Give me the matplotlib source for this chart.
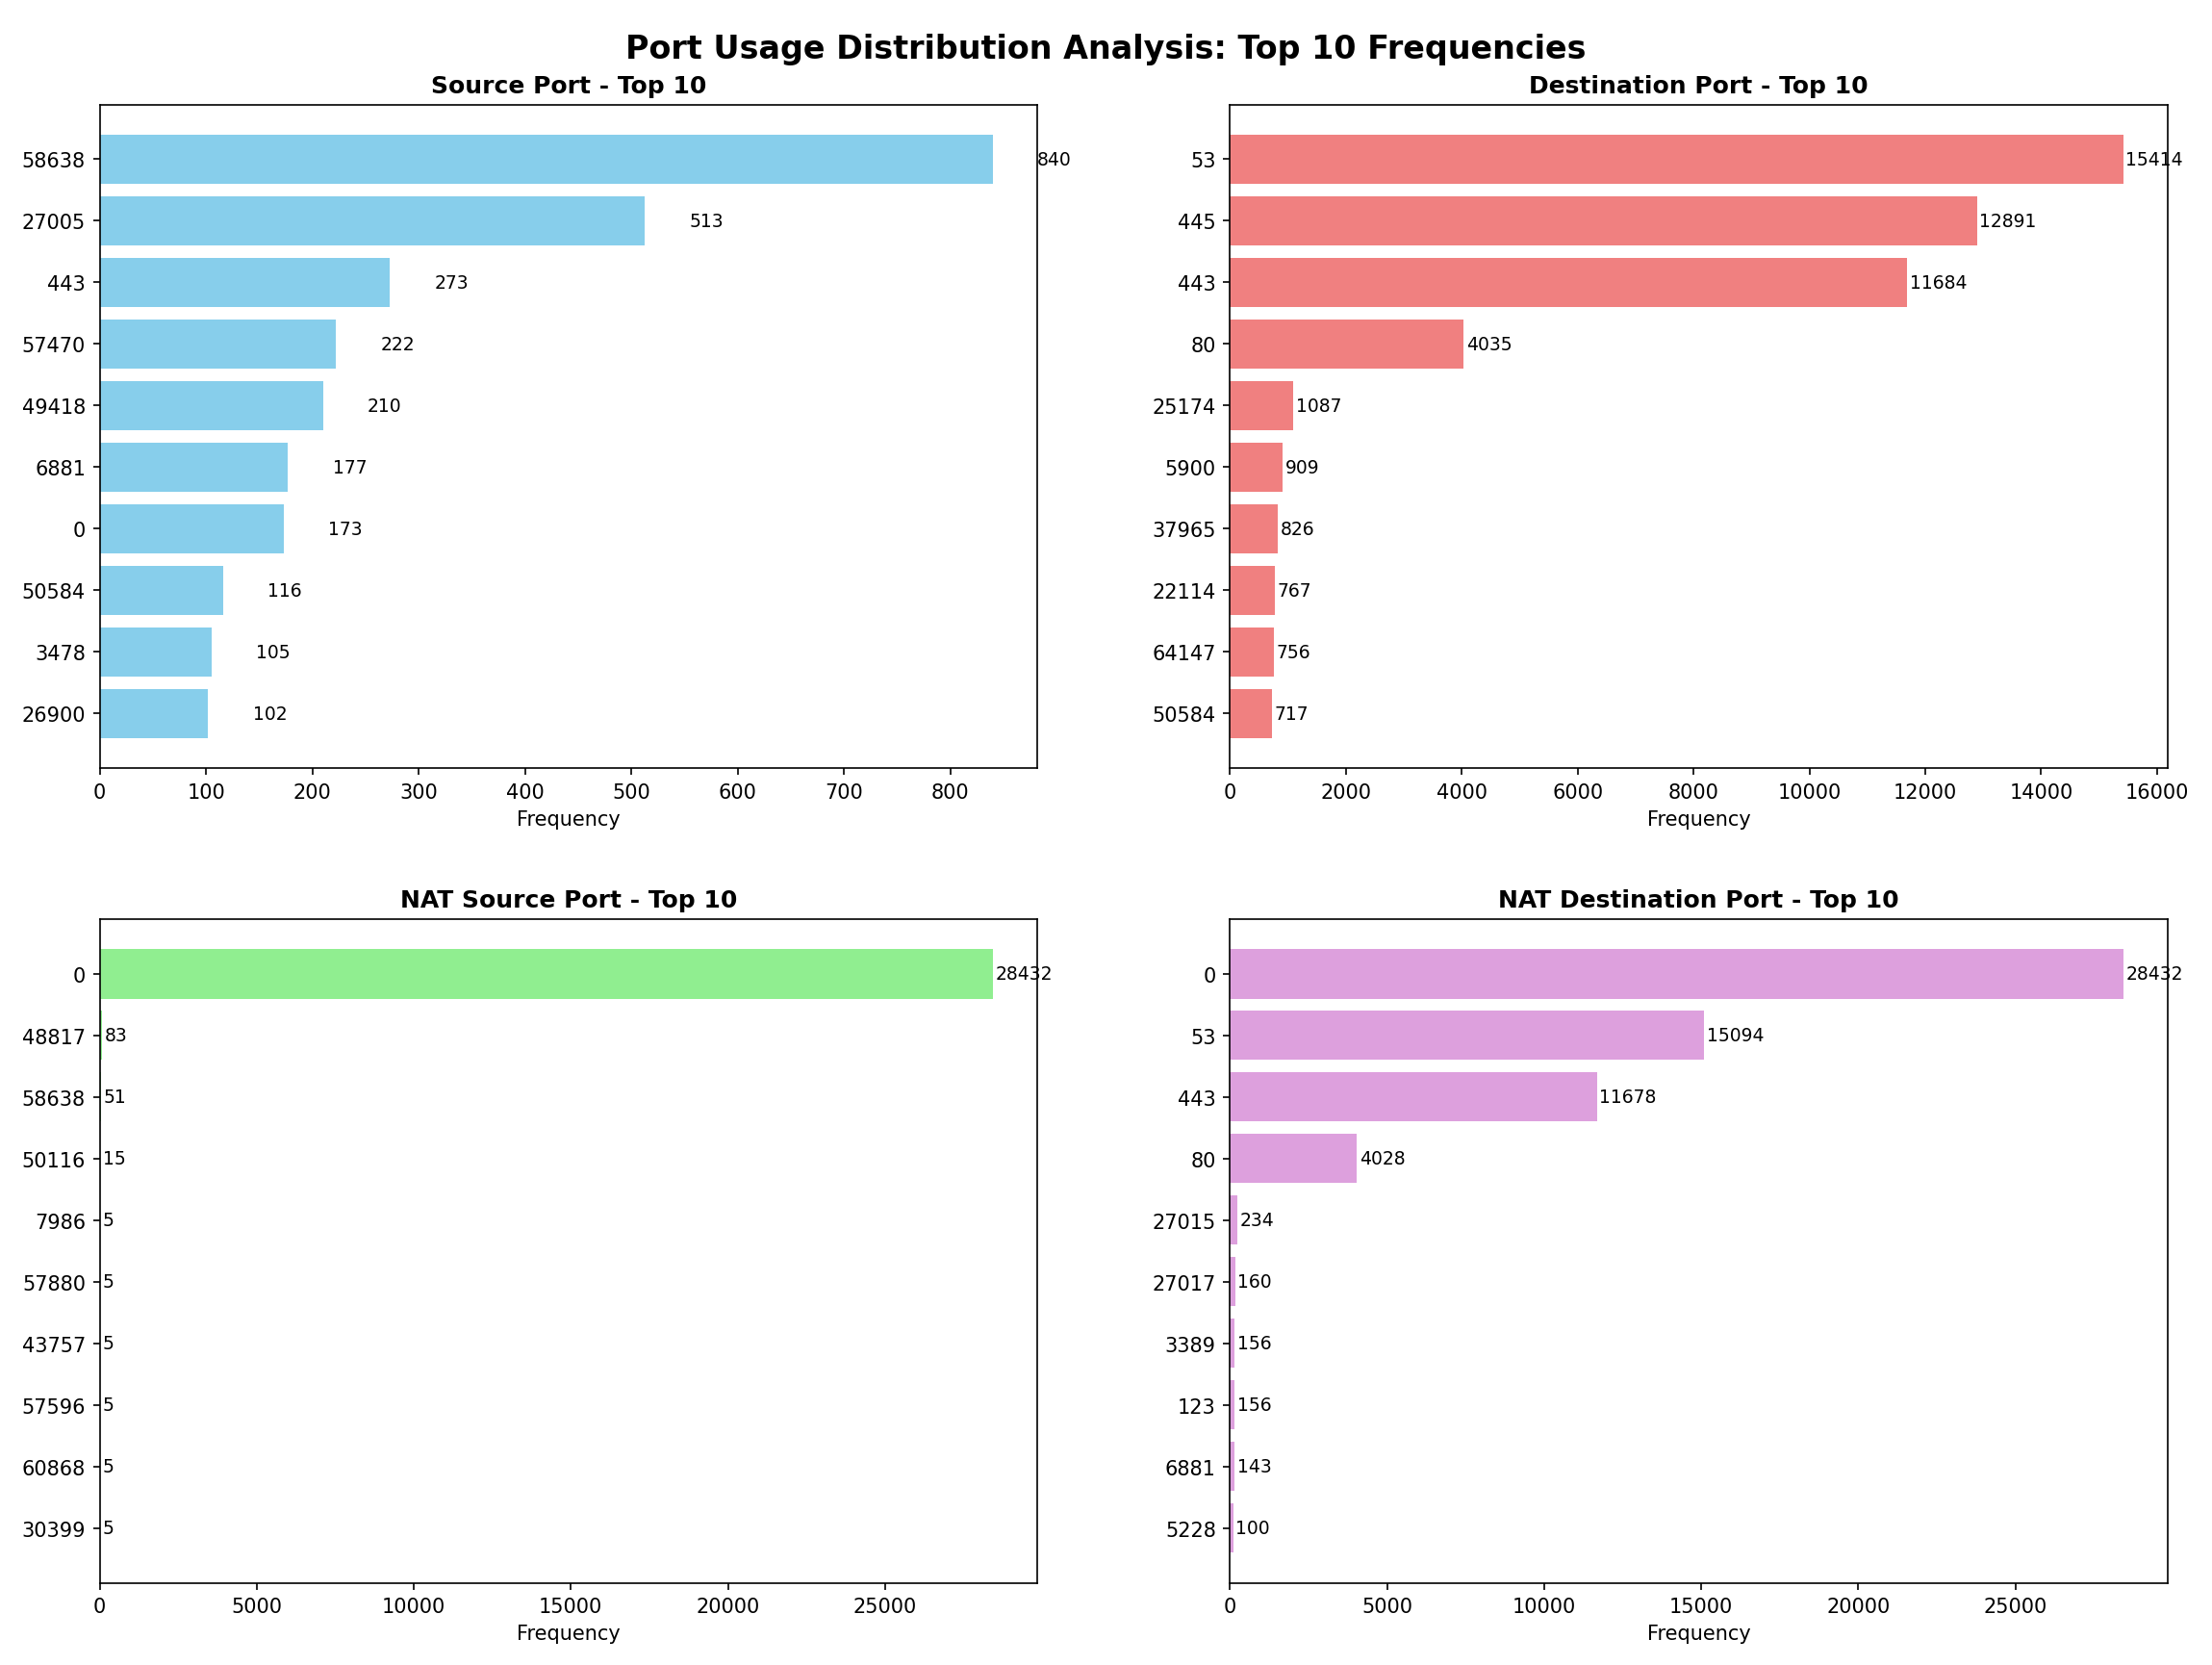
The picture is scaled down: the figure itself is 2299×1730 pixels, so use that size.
import matplotlib
matplotlib.use("Agg")
import matplotlib.pyplot as plt

src_ports = ["58638","27005","443","57470","49418","6881","0","50584","3478","26900"]
src_vals = [840,513,273,222,210,177,173,116,105,102]
dst_ports = ["53","445","443","80","25174","5900","37965","22114","64147","50584"]
dst_vals = [15414,12891,11684,4035,1087,909,826,767,756,717]
nsrc_ports = ["0","48817","58638","50116","7986","57880","43757","57596","60868","30399"]
nsrc_vals = [28432,83,51,15,5,5,5,5,5,5]
ndst_ports = ["0","53","443","80","27015","27017","3389","123","6881","5228"]
ndst_vals = [28432,15094,11678,4028,234,160,156,156,143,100]

panels = [
    ("Source Port - Top 10", src_ports, src_vals, "skyblue", 0.05),
    ("Destination Port - Top 10", dst_ports, dst_vals, "lightcoral", 0.003),
    ("NAT Source Port - Top 10", nsrc_ports, nsrc_vals, "lightgreen", 0.003),
    ("NAT Destination Port - Top 10", ndst_ports, ndst_vals, "plum", 0.003),
]

fig, axes = plt.subplots(2, 2, figsize=(15.33, 11.54), dpi=150)
for ax, (title, ports, vals, color, off) in zip(axes.flat, panels):
    y = range(len(ports))
    ax.barh(y, vals, color=color)
    ax.set_yticks(list(y))
    ax.set_yticklabels(ports)
    ax.invert_yaxis()
    ax.set_title(title, fontweight="bold", fontsize=12)
    ax.set_xlabel("Frequency")
    m = max(vals)
    for i, v in enumerate(vals):
        ax.text(v + m * off, i, str(v), va="center", fontsize=9)
fig.suptitle("Port Usage Distribution Analysis: Top 10 Frequencies", fontsize=16, fontweight="bold")
fig.tight_layout(h_pad=3, w_pad=4)
fig.savefig("out.png", dpi=150)
